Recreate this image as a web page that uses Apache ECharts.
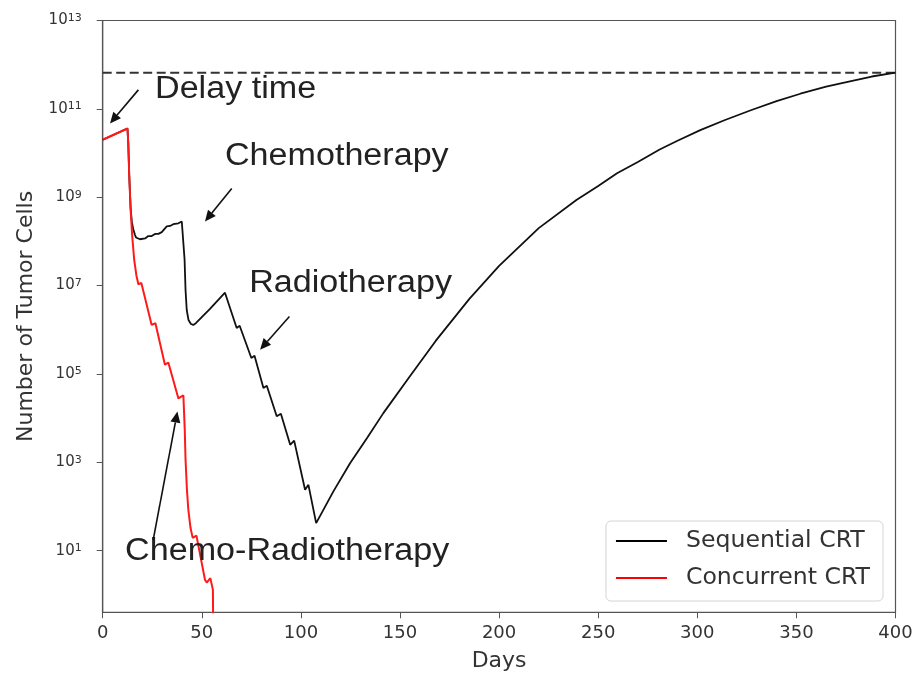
<!DOCTYPE html>
<html><head><meta charset="utf-8">
<script src="https://cdn.jsdelivr.net/npm/echarts@6/dist/echarts.min.js"></script>
<style>html,body{margin:0;padding:0;background:#fff}#c{width:918px;height:675px}</style>
</head><body><div id="c"></div>
<script>
// ---- data ----
const seqName = 'Sequential CRT';
const conName = 'Concurrent CRT';
const seqDays = [0, 12.5, 12.9, 13.4, 14.1, 14.7, 15.4, 16.3, 16.8, 18.8, 21.4, 23.0, 24.7, 26.4, 28.1, 29.8, 32.3, 34.0, 35.6, 38.2, 39.9, 40.8,
  41.3, 41.8, 42.4, 43.3, 44.5, 45.7, 47.0, 54.0, 61.7,
  67.6, 69.1, 75.0, 76.6, 81.1, 82.8, 87.8, 89.9, 94.6, 96.6, 102.1, 103.8, 107.7,
  116.4, 124.8, 133.3, 141.6, 155, 168, 185, 200, 220, 239, 250, 259.5, 270, 281, 290, 301.5, 314, 327, 340, 352, 365, 377, 388, 400];
const seqCells = [2.0e10, 3.6e10, 1.7e10, 3.0e9, 5.6e8, 2.8e8, 1.9e8, 1.4e8, 1.23e8, 1.12e8, 1.17e8, 1.32e8, 1.32e8, 1.48e8, 1.48e8, 1.62e8, 2.19e8, 2.24e8, 2.45e8, 2.57e8, 2.82e8, 3.09e8,
  3.98e7, 7.9e6, 2.8e6, 1.66e6, 1.35e6, 1.29e6, 1.41e6, 2.95e6, 6.9e6,
  1.1e6, 1.23e6, 2.3e5, 2.57e5, 4.8e4, 5.4e4, 1.1e4, 1.26e4, 2.5e3, 3.1e3, 240, 310, 42,
  220, 950, 3.5e3, 1.3e4, 8.9e4, 5.6e5, 5.0e6, 2.8e7, 2.0e8, 8.7e8, 1.8e9, 3.5e9, 6.3e9, 1.2e10, 1.9e10, 3.3e10, 5.6e10, 9.3e10, 1.5e11, 2.2e11, 3.2e11, 4.2e11, 5.4e11, 6.6e11];
const conDays = [0, 12.5, 12.9, 13.4, 14.1, 14.9, 15.9, 17.0, 18.0, 19.5, 24.7, 26.6, 31.4, 33.1, 38.2, 40.7, 41.2,
  41.4, 41.8, 42.5, 43.2, 44.3, 45.4, 47.3, 51.6, 52.5, 54.3, 55.6, 56.0];
const conCells = [2.0e10, 3.6e10, 1.7e10, 3.0e9, 5.1e8, 1.3e8, 3.8e7, 1.7e7, 1.07e7, 1.15e7, 1.29e6, 1.41e6, 1.62e5, 1.82e5, 2.8e4, 3.3e4, 3.2e4,
  5.5e3, 1.15e3, 240, 85, 33, 19.5, 22, 2.2, 1.9, 2.4, 1.3, 0.01];
const capacityCells = 6.6e11;
const xTickStep = 50;
const yTickExponents = [1, 3, 5, 7, 9, 11, 13];
const annotations = [
  { text: 'Delay time', at: [26.4, 11.43], from: [18.0, 11.43], to: [3.7, 10.67] },
  { text: 'Chemotherapy', at: [61.7, 9.93], from: [65.1, 9.20], to: [51.6, 8.45] },
  { text: 'Radiotherapy', at: [73.9, 7.04], from: [94.2, 6.30], to: [79.4, 5.55] },
  { text: 'Chemo-Radiotherapy', at: [11.3, 0.975], from: [25.5, 1.25], to: [37.7, 4.15] }
];

// ---- chart ----
const toLog = (days, cells) => days.map((d, i) => [d, Math.log10(cells[i])]);
const chart = echarts.init(document.getElementById('c'), null, { renderer: 'canvas' });
const axisColor = '#555';
const textColor = '#333';
chart.setOption({
  animation: false,
  backgroundColor: '#fff',
  grid: { left: 102.7, right: 22.5, top: 20.5, bottom: 62.7, show: true, borderColor: axisColor, borderWidth: 1.2, outerBoundsMode: 'none', containLabel: false },
  legend: {
    data: [seqName, conName], orient: 'vertical', right: 35, bottom: 74,
    icon: 'rect', itemWidth: 51, itemHeight: 2, itemGap: 13,
    padding: [8, 13, 11, 10], backgroundColor: '#fff', borderColor: '#d4d4d4', borderWidth: 1, borderRadius: 5,
    textStyle: { fontFamily: 'DejaVu Sans', fontSize: 23.6, color: textColor, padding: [0, 0, 0, 14] }
  },
  xAxis: {
    type: 'value', min: 0, max: 400, interval: xTickStep,
    name: 'Days', nameLocation: 'middle', nameGap: 38,
    nameTextStyle: { fontFamily: 'DejaVu Sans', fontSize: 22, color: textColor },
    axisLine: { show: true, onZero: false, lineStyle: { color: axisColor, width: 1.2 } },
    axisTick: { show: true, inside: false, length: 6, lineStyle: { color: axisColor } },
    axisLabel: { fontFamily: 'DejaVu Sans', fontSize: 18, color: textColor, margin: 12 },
    splitLine: { show: false }
  },
  yAxis: {
    type: 'value', min: -0.394, max: 13,
    name: 'Number of Tumor Cells', nameLocation: 'middle', nameGap: 62, nameRotate: 90,
    nameTextStyle: { fontFamily: 'DejaVu Sans', fontSize: 22, color: textColor },
    axisLine: { show: true, onZero: false, lineStyle: { color: axisColor, width: 1.2 } },
    axisTick: { show: true, inside: false, length: 6, lineStyle: { color: axisColor }, customValues: yTickExponents },
    axisLabel: {
      customValues: yTickExponents, margin: 21,
      formatter: v => '{b|10}{s|' + v + '}',
      rich: {
        b: { fontFamily: 'DejaVu Sans', fontSize: 15, color: textColor, lineHeight: 16, verticalAlign: 'middle' },
        s: { fontFamily: 'DejaVu Sans', fontSize: 11, color: textColor, lineHeight: 11, verticalAlign: 'top' }
      }
    },
    splitLine: { show: false }
  },
  series: [
    { name: 'capacity', type: 'line', data: [[0, Math.log10(capacityCells)], [400, Math.log10(capacityCells)]],
      symbol: 'none', silent: true, lineStyle: { color: '#333', width: 2, type: [9, 4.5] }, z: 1 },
    { name: seqName, type: 'line', data: toLog(seqDays, seqCells), symbol: 'none', color: '#000',
      lineStyle: { color: '#111', width: 1.8 }, z: 2 },
    { name: conName, type: 'line', data: toLog(conDays, conCells), symbol: 'none', color: '#ff0000',
      lineStyle: { color: '#ff1a1a', width: 2 }, z: 3 }
  ]
});

// annotations placed through the chart's own coordinate conversion
const graphics = [];
annotations.forEach(a => {
  const p = chart.convertToPixel({ gridIndex: 0 }, a.at);
  const f = chart.convertToPixel({ gridIndex: 0 }, a.from);
  const t = chart.convertToPixel({ gridIndex: 0 }, a.to);
  graphics.push({ type: 'text', x: p[0], y: p[1], scaleX: 1.1, z: 10,
    style: { text: a.text, x: 0, y: 0, font: '31px "Liberation Sans", Arial, sans-serif', fill: '#222', textVerticalAlign: 'middle', textAlign: 'left' } });
  const dx = t[0] - f[0], dy = t[1] - f[1];
  const len = Math.sqrt(dx * dx + dy * dy);
  const ux = dx / len, uy = dy / len;
  const hl = 11, hw = 5;
  const bx = t[0] - ux * hl, by = t[1] - uy * hl;
  graphics.push({ type: 'line', z: 10, shape: { x1: f[0], y1: f[1], x2: bx, y2: by }, style: { stroke: '#111', lineWidth: 1.6 } });
  graphics.push({ type: 'polygon', z: 10, shape: { points: [[t[0], t[1]], [bx - uy * hw, by + ux * hw], [bx + uy * hw, by - ux * hw]] }, style: { fill: '#111' } });
});
chart.setOption({ graphic: graphics });
</script>
</body></html>
